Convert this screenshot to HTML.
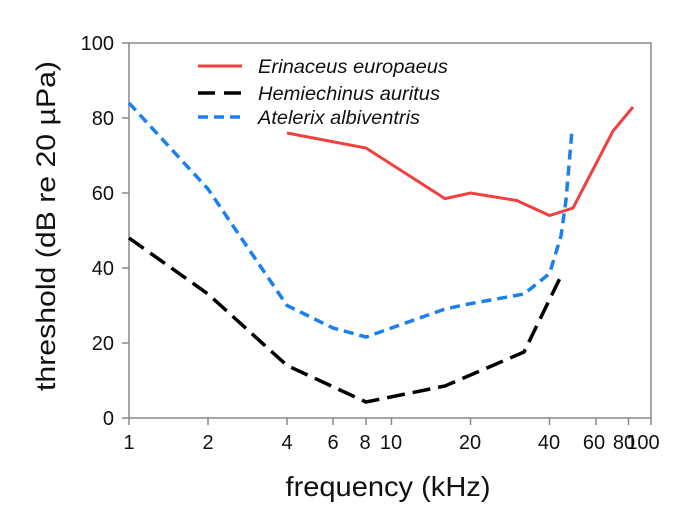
<!DOCTYPE html>
<html><head><meta charset="utf-8"><style>html,body{margin:0;padding:0;background:#fff}</style></head>
<body>
<svg width="700" height="508" viewBox="0 0 700 508" xmlns="http://www.w3.org/2000/svg" font-family="Liberation Sans, sans-serif">
<rect width="700" height="508" fill="#fff"/>
<rect x="129" y="43" width="522" height="375" fill="none" stroke="#888" stroke-width="1.5"/>
<g stroke="#888" stroke-width="1.5">
<line x1="122" y1="43" x2="129" y2="43"/><line x1="122" y1="118" x2="129" y2="118"/><line x1="122" y1="193" x2="129" y2="193"/><line x1="122" y1="268" x2="129" y2="268"/><line x1="122" y1="343" x2="129" y2="343"/><line x1="122" y1="418" x2="129" y2="418"/>
<line x1="129" y1="418" x2="129" y2="425"/><line x1="208" y1="418" x2="208" y2="425"/><line x1="287" y1="418" x2="287" y2="425"/><line x1="333" y1="418" x2="333" y2="425"/><line x1="366" y1="418" x2="366" y2="425"/><line x1="391.5" y1="418" x2="391.5" y2="425"/><line x1="470.5" y1="418" x2="470.5" y2="425"/><line x1="549.5" y1="418" x2="549.5" y2="425"/><line x1="596" y1="418" x2="596" y2="425"/><line x1="628.5" y1="418" x2="628.5" y2="425"/><line x1="651" y1="418" x2="651" y2="425"/>
</g>
<g font-size="20" fill="#111" text-anchor="end">
<text x="114" y="50">100</text><text x="114" y="125">80</text><text x="114" y="200">60</text><text x="114" y="275">40</text><text x="114" y="350">20</text><text x="114" y="425">0</text>
</g>
<g font-size="20" fill="#111" text-anchor="middle">
<text x="129" y="449">1</text><text x="208" y="449">2</text><text x="287" y="449">4</text><text x="333" y="449">6</text><text x="365" y="449">8</text><text x="391" y="449">10</text><text x="470" y="449">20</text><text x="549" y="449">40</text><text x="594" y="449">60</text><text x="624" y="449">80</text><text x="643" y="449">100</text>
</g>
<text x="388" y="496" font-size="28" text-anchor="middle" fill="#111" textLength="205" lengthAdjust="spacingAndGlyphs">frequency (kHz)</text>
<text transform="translate(55,226) rotate(-90)" font-size="27" text-anchor="middle" fill="#111" textLength="330" lengthAdjust="spacingAndGlyphs">threshold (dB re 20 µPa)</text>
<polyline fill="none" stroke="#f04040" stroke-width="3" points="287,133 366,148 445,198.6 470.5,193 516.7,200.5 549.5,215.5 573,208 613,131 633,107"/>
<polyline fill="none" stroke="#000" stroke-width="3.5" stroke-dasharray="18,8" points="129,238 208,294 287,365.5 366,402 445,386 524,352 561,276"/>
<polyline fill="none" stroke="#1a80f0" stroke-width="3.5" stroke-dasharray="10,6" points="129,103 208,189 287,305.5 333,328 366,337 445,309 470.5,303.6 524,294 549.5,273.6 561,236 566,200 572,130"/>
<line x1="198" y1="66" x2="242" y2="66" stroke="#f04040" stroke-width="3"/>
<line x1="198" y1="93" x2="242" y2="93" stroke="#000" stroke-width="3.5" stroke-dasharray="17,9"/>
<line x1="198" y1="117" x2="242" y2="117" stroke="#1a80f0" stroke-width="3.5" stroke-dasharray="10,6"/>
<g font-size="19" font-style="italic" fill="#111" lengthAdjust="spacingAndGlyphs">
<text x="258" y="73" textLength="190" lengthAdjust="spacingAndGlyphs">Erinaceus europaeus</text>
<text x="258" y="100" textLength="182" lengthAdjust="spacingAndGlyphs">Hemiechinus auritus</text>
<text x="258" y="124" textLength="162" lengthAdjust="spacingAndGlyphs">Atelerix albiventris</text>
</g>
</svg>
</body></html>
